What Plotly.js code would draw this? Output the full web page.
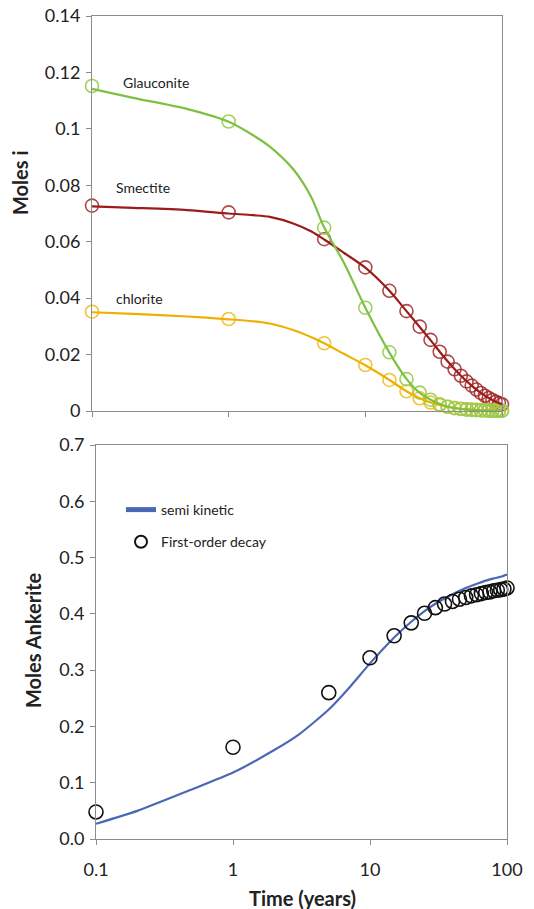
<!DOCTYPE html>
<html><head><meta charset="utf-8">
<script src="https://cdn.plot.ly/plotly-3.0.1.min.js"></script>
<style>html,body{margin:0;padding:0;background:#fff;}#chart{width:534px;height:909px;}</style>
</head><body><div id="chart"></div>
<script>
// ---- Top panel data (Moles i) ----
const markerTimes = [0.1, 1, 5, 10, 15, 20, 25, 30, 35, 40, 45, 50, 55, 60, 65, 70, 75, 80, 85, 90, 95, 100];
const smectitePts   = [0.0728, 0.0704, 0.0609, 0.0509, 0.0426, 0.0354, 0.0299, 0.0252, 0.0210, 0.0175, 0.0148, 0.0125, 0.0105, 0.0090, 0.0076, 0.0064, 0.0054, 0.0046, 0.0039, 0.0033, 0.0028, 0.0024];
const glauconitePts = [0.1152, 0.1026, 0.0650, 0.0366, 0.0208, 0.0113, 0.0065, 0.0040, 0.0024, 0.0015, 0.0010, 0.0007, 0.0005, 0.0004, 0.0003, 0.0002, 0.0002, 0.0001, 0.0001, 0.0001, 0.0001, 0.0001];
const chloritePts   = [0.0352, 0.0326, 0.0240, 0.0163, 0.0110, 0.0070, 0.0045, 0.0030, 0.0021, 0.0015, 0.0011, 0.0008, 0.0006, 0.0005, 0.0004, 0.0003, 0.0003, 0.0002, 0.0002, 0.0002, 0.0002, 0.0002];

const lineTimes = [0.1, 0.2, 0.5, 1, 1.5, 2, 3, 4, 5, 7, 10, 15, 20, 25, 30, 40, 50, 60, 70, 80, 90, 100];
const smectiteLine   = [0.0725, 0.0720, 0.0712, 0.0700, 0.0694, 0.0688, 0.0664, 0.0637, 0.0608, 0.0560, 0.0508, 0.0426, 0.0354, 0.0298, 0.0251, 0.0176, 0.0125, 0.0090, 0.0064, 0.0046, 0.0033, 0.0024];
const glauconiteLine = [0.1142, 0.1110, 0.1070, 0.1025, 0.0978, 0.0937, 0.0854, 0.0760, 0.0650, 0.0524, 0.0366, 0.0207, 0.0114, 0.0064, 0.0040, 0.0015, 0.0007, 0.0004, 0.0002, 0.0001, 0.0001, 0.0001];
const chloriteLine   = [0.0350, 0.0344, 0.0335, 0.0325, 0.0318, 0.0310, 0.0286, 0.0262, 0.0240, 0.0202, 0.0162, 0.0110, 0.0070, 0.0045, 0.0030, 0.0015, 0.0008, 0.0005, 0.0003, 0.0002, 0.0002, 0.0002];

// ---- Bottom panel data (Moles Ankerite) ----
const decayTimes = [0.1, 1, 5, 10, 15, 20, 25, 30, 35, 40, 45, 50, 55, 60, 65, 70, 75, 80, 85, 90, 95, 100];
const firstOrderDecay = [0.048, 0.163, 0.260, 0.322, 0.361, 0.384, 0.401, 0.411, 0.4175, 0.422, 0.426, 0.429, 0.432, 0.434, 0.436, 0.438, 0.439, 0.441, 0.442, 0.443, 0.444, 0.446];
const kineticTimes = [0.1, 0.2, 0.5, 1, 2, 3, 5, 7, 10, 15, 20, 25, 30, 40, 50, 60, 70, 80, 90, 100];
const semiKinetic  = [0.027, 0.050, 0.088, 0.118, 0.158, 0.185, 0.230, 0.268, 0.312, 0.358, 0.386, 0.405, 0.418, 0.435, 0.446, 0.453, 0.459, 0.463, 0.466, 0.470];

const xTickVals = [0.1, 1, 10, 100];
const xTickText = ['0.1', '1', '10', '100'];

const FONT = 'Lato, "Open Sans", sans-serif';
const W = 534, H = 909;
const px = v => v / W, py = v => 1 - v / H;

function lineTrace(x, y, color, xa, ya, smooth) {
  return {x, y, xaxis: xa, yaxis: ya, mode: 'lines', type: 'scatter', showlegend: false,
    line: {color, width: 2.2, shape: 'spline', smoothing: smooth}, hoverinfo: 'skip', cliponaxis: false};
}
function markTrace(x, y, color, size, xa, ya, name, show) {
  return {x, y, xaxis: xa, yaxis: ya, mode: 'markers', type: 'scatter', name, showlegend: !!show,
    marker: {symbol: 'circle-open', size, color, line: {color, width: 1.6}}, cliponaxis: false};
}

const traces = [
  markTrace(markerTimes, smectitePts, 'rgba(160,40,40,0.85)', 13, 'x', 'y', 'Smectite'),
  markTrace(markerTimes, chloritePts, 'rgba(240,190,40,0.9)', 13, 'x', 'y', 'chlorite'),
  markTrace(markerTimes, glauconitePts, 'rgba(150,205,80,0.9)', 13, 'x', 'y', 'Glauconite'),
  lineTrace(lineTimes, smectiteLine, '#9c1c1c', 'x', 'y', 0.8),
  lineTrace(lineTimes, chloriteLine, '#eeb000', 'x', 'y', 0.8),
  lineTrace(lineTimes, glauconiteLine, '#7dc142', 'x', 'y', 0.8),
  Object.assign(lineTrace(kineticTimes, semiKinetic, '#4a68b5', 'x2', 'y2', 0.6), {name: 'semi kinetic', showlegend: true, legendgroup: 'a'}),
  Object.assign(markTrace(decayTimes, firstOrderDecay, '#111', 14, 'x2', 'y2', 'First-order decay', true), {legendgroup: 'b'})
];

const axBase = {showgrid: false, zeroline: false, showline: true, mirror: true, linecolor: '#8c8c8c', linewidth: 1,
  ticks: 'outside', ticklen: 5, tickcolor: '#8c8c8c', tickfont: {family: FONT, size: 18, color: '#222'}};

const layout = {
  width: W, height: H, margin: {l: 0, r: 0, t: 0, b: 0}, paper_bgcolor: '#fff', plot_bgcolor: '#fff',
  font: {family: FONT, color: '#222'},
  xaxis: Object.assign({}, axBase, {type: 'log', range: [-1, 2], domain: [px(92), px(502)], anchor: 'y',
    tickvals: xTickVals, showticklabels: false}),
  yaxis: Object.assign({}, axBase, {range: [0, 0.14], dtick: 0.02, tick0: 0, domain: [py(411), py(16)], anchor: 'x', ticklabelstandoff: 2}),
  xaxis2: Object.assign({}, axBase, {type: 'log', range: [-1, 2], domain: [px(96), px(507)], anchor: 'y2',
    tickvals: xTickVals, ticktext: xTickText, ticklabelstandoff: 9}),
  yaxis2: Object.assign({}, axBase, {range: [0, 0.7], dtick: 0.1, tick0: 0, tickformat: '.1f', domain: [py(839), py(445)], anchor: 'x2', ticklabelstandoff: 2}),
  showlegend: true,
  legend: {x: px(121), y: py(494), xanchor: 'left', yanchor: 'top', bgcolor: 'rgba(0,0,0,0)',
    font: {family: FONT, size: 14, color: '#222'}, traceorder: 'grouped', tracegroupgap: 11, itemsizing: 'constant'},
  annotations: [
    {text: '<b>Moles i</b>', x: px(20), y: py(183), xref: 'paper', yref: 'paper', xanchor: 'center', yanchor: 'middle', showarrow: false, textangle: -90, font: {family: FONT, size: 20, color: '#222'}},
    {text: '<b>Moles Ankerite</b>', x: px(33), y: py(640), xref: 'paper', yref: 'paper', xanchor: 'center', yanchor: 'middle', showarrow: false, textangle: -90, font: {family: FONT, size: 20, color: '#222'}},
    {text: '<b>Time (years)</b>', x: px(302), y: py(898), xref: 'paper', yref: 'paper', xanchor: 'center', yanchor: 'middle', showarrow: false, font: {family: FONT, size: 20, color: '#222'}},
    {text: 'Glauconite', x: px(121), y: py(82), xref: 'paper', yref: 'paper', xanchor: 'left', yanchor: 'middle', showarrow: false, font: {family: FONT, size: 14, color: '#222'}},
    {text: 'Smectite', x: px(114), y: py(187), xref: 'paper', yref: 'paper', xanchor: 'left', yanchor: 'middle', showarrow: false, font: {family: FONT, size: 14, color: '#222'}},
    {text: 'chlorite', x: px(114), y: py(298), xref: 'paper', yref: 'paper', xanchor: 'left', yanchor: 'middle', showarrow: false, font: {family: FONT, size: 14, color: '#222'}}
  ]
};

Plotly.newPlot('chart', traces, layout, {displayModeBar: false, staticPlot: true});
</script>
</body></html>
